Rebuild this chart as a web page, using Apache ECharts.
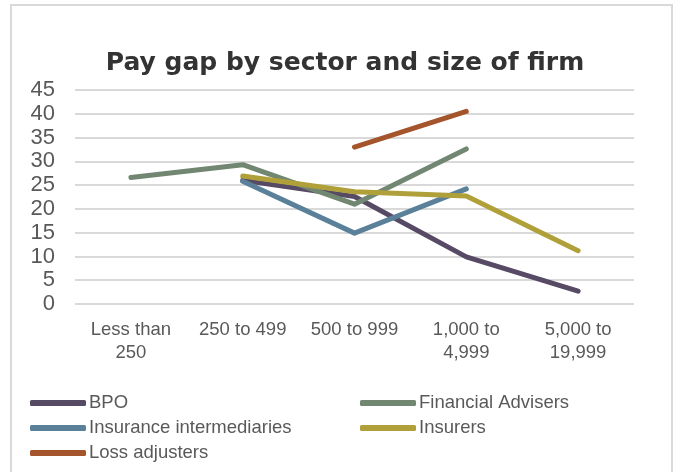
<!DOCTYPE html>
<html>
<head>
<meta charset="utf-8">
<script src="https://cdn.jsdelivr.net/npm/echarts@6/dist/echarts.min.js"></script>
<style>html,body{margin:0;padding:0;background:#fff}#c{width:676px;height:472px}</style>
</head>
<body>
<div id="c"></div>
<script>
const categories = ['Less than\n250', '250 to 499', '500 to 999', '1,000 to\n4,999', '5,000 to\n19,999'];
const yTicks = [0, 5, 10, 15, 20, 25, 30, 35, 40, 45];
const bpo = [null, 26.0, 22.6, 9.9, 2.7];
const financialAdvisers = [26.6, 29.3, 21.0, 32.6, null];
const insuranceIntermediaries = [null, 25.8, 14.9, 24.2, null];
const insurers = [null, 26.9, 23.6, 22.7, 11.2];
const lossAdjusters = [null, null, 33.0, 40.5, null];

const names = ['BPO', 'Financial Advisers', 'Insurance intermediaries', 'Insurers', 'Loss adjusters'];
const colors = ['#574a64', '#728771', '#5a8199', '#b0a03a', '#a5552c'];
const datas = [bpo, financialAdvisers, insuranceIntermediaries, insurers, lossAdjusters];
// legend slots: [left, rowCenterY]
const legendPos = [[30, 403], [360, 403], [30, 428], [360, 428], [30, 453]];

const font = 'Liberation Sans, Arial, sans-serif';
const chart = echarts.init(document.getElementById('c'));
chart.setOption({
  animation: false,
  backgroundColor: '#fff',
  title: {
    text: 'Pay gap by sector and size of firm',
    left: 340, top: 46, textAlign: 'center',
    textStyle: { fontFamily: 'DejaVu Sans, sans-serif', fontWeight: 'bold', fontSize: 25, color: '#333333' }
  },
  graphic: [{
    type: 'rect', shape: { x: 11, y: 5, width: 661, height: 480 },
    style: { fill: 'none', stroke: '#d9d9d9', lineWidth: 2 }, z: -1
  }],
  grid: { left: 75, right: 42, top: 90, bottom: 168 },
  xAxis: {
    type: 'category', data: categories, boundaryGap: true,
    axisLine: { show: false }, axisTick: { show: false },
    axisLabel: { color: '#595959', fontSize: 18.5, fontFamily: font, lineHeight: 23, margin: 14, interval: 0 }
  },
  yAxis: {
    type: 'value', min: 0, max: 45, interval: 5,
    axisLine: { show: false }, axisTick: { show: false },
    splitLine: { lineStyle: { color: '#d9d9d9', width: 2 } },
    axisLabel: { color: '#595959', fontSize: 22, fontFamily: font, margin: 20,
      formatter: v => yTicks.includes(v) ? String(v) : '' }
  },
  legend: names.map((n, i) => ({
    data: [n], left: legendPos[i][0], top: legendPos[i][1] - 10, padding: 0,
    itemWidth: 56, itemHeight: 6, icon: 'roundRect',
    textStyle: { color: '#595959', fontSize: 18.5, fontFamily: font, lineHeight: 20, padding: [0, 0, 0, -2] }
  })),
  series: names.map((n, i) => ({
    name: n, type: 'line', data: datas[i], showSymbol: false, symbol: 'none',
    color: colors[i],
    lineStyle: { width: 5, color: colors[i], cap: 'round', join: 'round' }
  }))
});
</script>
</body>
</html>
